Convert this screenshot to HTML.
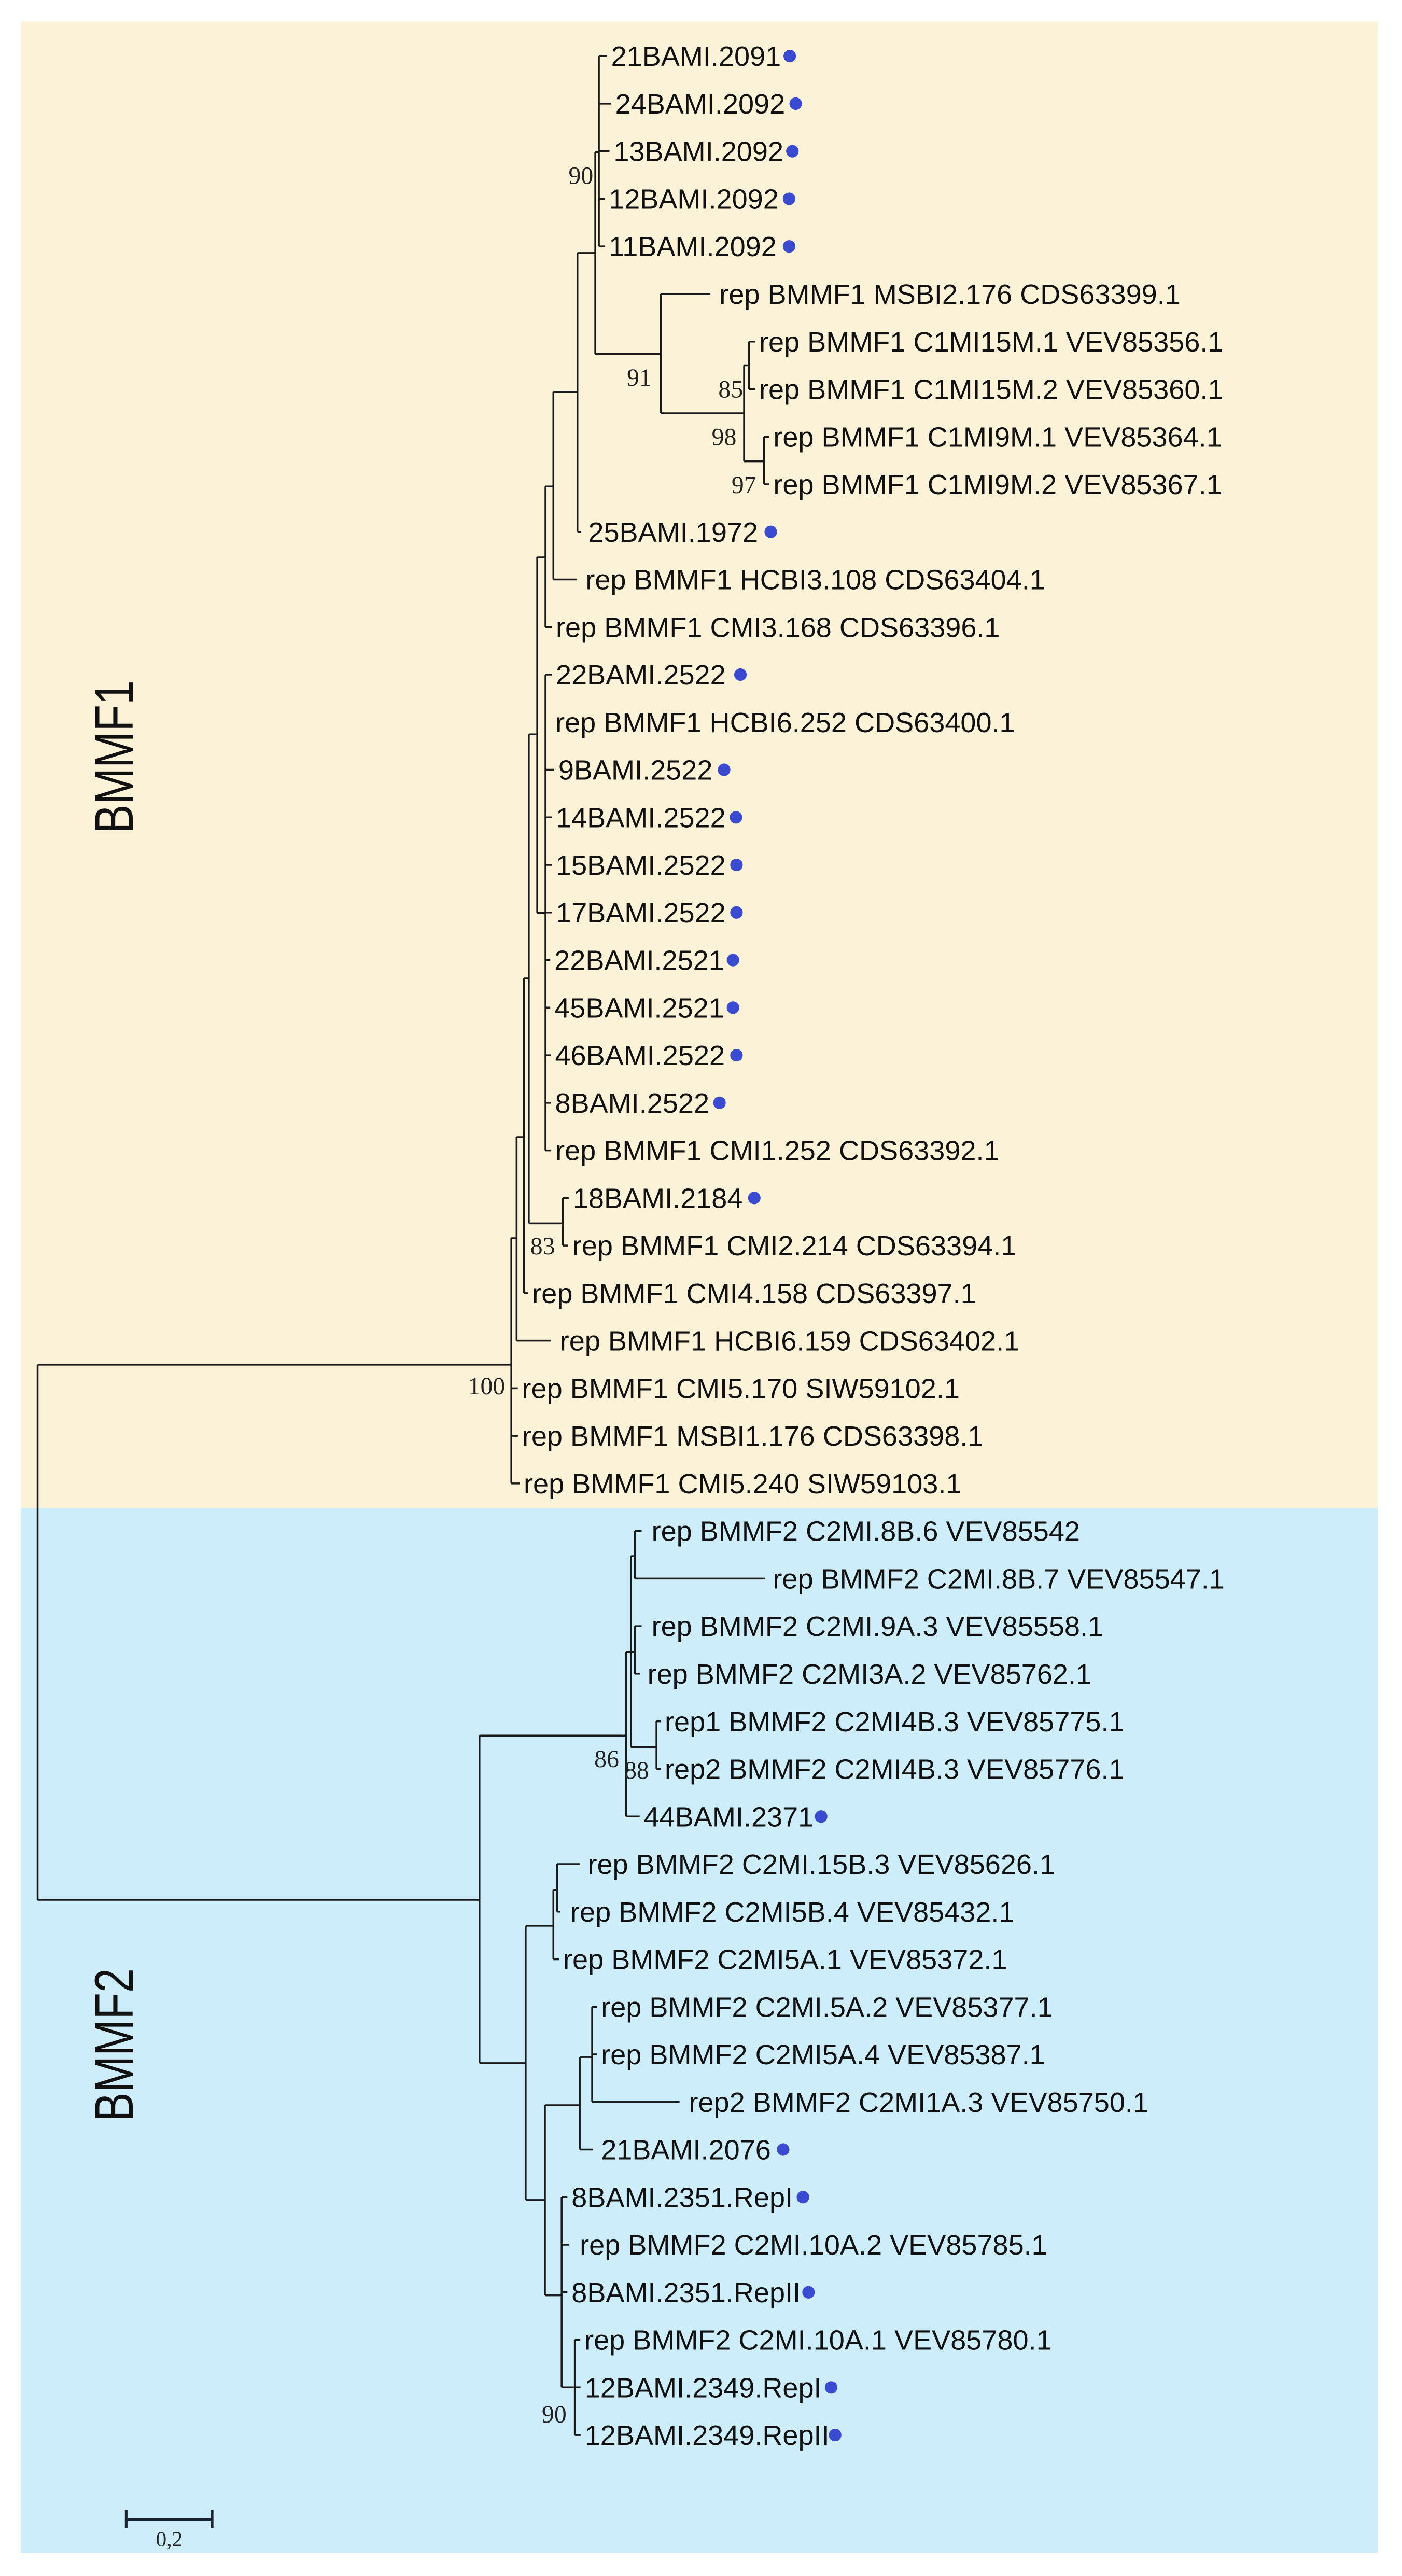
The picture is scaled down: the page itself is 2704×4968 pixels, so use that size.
<!DOCTYPE html>
<html><head><meta charset="utf-8"><style>
html,body{margin:0;padding:0;background:#fff;}
svg{display:block;}
.t{font-family:"Liberation Sans",Arial,sans-serif;font-size:17px;fill:#111;}
.b{font-family:"Liberation Serif","Times New Roman",serif;font-size:15px;fill:#222;text-anchor:middle;}
.c{font-family:"Liberation Sans",Arial,sans-serif;font-size:33px;fill:#111;text-anchor:middle;}
</style></head><body>
<svg width="2704" height="4968" viewBox="0 0 850 1562" preserveAspectRatio="none" xmlns="http://www.w3.org/2000/svg">
<rect x="0" y="0" width="850" height="1562" fill="#fff"/>
<rect x="12.5" y="13" width="822.7" height="901.4" fill="#fcf2d7"/>
<rect x="12.5" y="914.4" width="822.7" height="633.6" fill="#cdedfb"/>

<g stroke="#1a1a1a" stroke-width="1.1" fill="none">
<path d="
M22.8 827.5V1152 M22.8 827.5H310 M22.8 1152H290.7
M310 750.8V899.5 M310 750.8H313.2
M313.2 689.5V812.95 M313.2 689.5H317.7
M317.7 593.3V784.1 M317.7 593.3H320.6
M320.6 445.3V741.8 M320.6 445.3H325.7 M320.6 741.8H341.2
M341.2 726.4V755.25
M325.7 338V553.5 M325.7 338H330.7 M325.7 553.5H330.7
M330.7 409.05V697.55
M330.7 295V380.2 M330.7 295H335.5
M335.5 237.6V351.35 M335.5 237.6H350.1
M350.1 153.4V322.5 M350.1 153.4H360.9
M360.9 92.2V214.5 M360.9 92.2H363.1 M360.9 214.5H400.6
M363.1 34V149.4
M400.6 178.25V250.6 M400.6 250.6H451.1
M451.1 221.5V279.7 M451.1 221.5H454.1 M451.1 279.7H463.2
M454.1 207.1V235.95
M463.2 264.8V293.65
M290.7 1052.4V1251 M290.7 1052.4H379.5 M290.7 1251H318.7
M379.5 1001.7V1101.45 M379.5 1001.7H382.5
M382.5 943.6V1059.4 M382.5 943.6H384.9 M382.5 1001.7H385 M382.5 1059.4H398
M384.9 928.35V957.2
M385 986.05V1014.9
M398 1043.75V1072.6
M318.7 1167.7V1334 M318.7 1167.7H335.5 M318.7 1334H330.4
M335.5 1146V1188 M335.5 1146H337.8
M337.8 1130.3V1159.15
M330.4 1276.5V1391.8 M330.4 1276.5H351.5 M330.4 1391.8H340.5
M351.5 1247.3V1303.4 M351.5 1247.3H359
M359 1216.85V1274.55
M340.5 1332.25V1447.65 M340.5 1447.65H348.5
M348.5 1418.8V1476.5
M363.1 34H368 M363.1 62.85H370.5 M363.1 91.7H369.5 M363.1 120.55H366.6 M363.1 149.4H366.6
M400.6 178.25H430.7
M454.1 207.1H457.7 M454.1 235.95H457.7
M463.2 264.8H466.3 M463.2 293.65H466.3
M350.1 322.5H352.4
M335.5 351.35H349.6
M330.7 380.2H334.5
M330.7 409.05H334.5 M330.7 466.75H336 M330.7 495.6H334.5 M330.7 524.45H334.5 M330.7 553.3H334.5 M330.7 582.15H333.6 M330.7 611H333.6 M330.7 639.85H334 M330.7 668.7H334 M330.7 697.55H334.2
M341.2 726.4H344.8 M341.2 755.25H344.5
M317.7 784.1H320.1
M313.2 812.95H334
M310 841.8H313.9 M310 870.65H314 M310 899.5H315
M384.9 928.35H389 M384.9 957.2H463.7
M385 986.05H389 M385 1014.9H388
M398 1043.75H400.5 M398 1072.6H400.5
M379.5 1101.45H387.8
M337.8 1130.3H351.4 M337.8 1159.15H339.5
M335.5 1188H338.9
M359 1216.85H361.9 M359 1245.7H361.9 M359 1274.55H412
M351.5 1303.4H359.4
M340.5 1332.25H344 M340.5 1361.1H345 M340.5 1389.95H344
M348.5 1418.8H351.8 M348.5 1447.65H352 M348.5 1476.5H352
"/>
</g>

<g class="t">
<text x="370.5" y="40">21BAMI.2091</text>
<text x="373" y="68.85">24BAMI.2092</text>
<text x="372" y="97.7">13BAMI.2092</text>
<text x="369.1" y="126.55">12BAMI.2092</text>
<text x="369.1" y="155.4">11BAMI.2092</text>
<text x="436.1" y="184.25">rep BMMF1 MSBI2.176 CDS63399.1</text>
<text x="460.2" y="213.1">rep BMMF1 C1MI15M.1 VEV85356.1</text>
<text x="460.2" y="241.95">rep BMMF1 C1MI15M.2 VEV85360.1</text>
<text x="468.8" y="270.8">rep BMMF1 C1MI9M.1 VEV85364.1</text>
<text x="468.8" y="299.65">rep BMMF1 C1MI9M.2 VEV85367.1</text>
<text x="356.6" y="328.5">25BAMI.1972</text>
<text x="355" y="357.35">rep BMMF1 HCBI3.108 CDS63404.1</text>
<text x="337" y="386.2">rep BMMF1 CMI3.168 CDS63396.1</text>
<text x="337" y="415.05">22BAMI.2522</text>
<text x="336.7" y="443.9">rep BMMF1 HCBI6.252 CDS63400.1</text>
<text x="338.5" y="472.75">9BAMI.2522</text>
<text x="337" y="501.6">14BAMI.2522</text>
<text x="337" y="530.45">15BAMI.2522</text>
<text x="337" y="559.3">17BAMI.2522</text>
<text x="336.1" y="588.15">22BAMI.2521</text>
<text x="336.1" y="617">45BAMI.2521</text>
<text x="336.5" y="645.85">46BAMI.2522</text>
<text x="336.5" y="674.7">8BAMI.2522</text>
<text x="336.7" y="703.55">rep BMMF1 CMI1.252 CDS63392.1</text>
<text x="347.3" y="732.4">18BAMI.2184</text>
<text x="347" y="761.25">rep BMMF1 CMI2.214 CDS63394.1</text>
<text x="322.6" y="790.1">rep BMMF1 CMI4.158 CDS63397.1</text>
<text x="339.4" y="818.95">rep BMMF1 HCBI6.159 CDS63402.1</text>
<text x="316.4" y="847.8">rep BMMF1 CMI5.170 SIW59102.1</text>
<text x="316.5" y="876.65">rep BMMF1 MSBI1.176 CDS63398.1</text>
<text x="317.5" y="905.5">rep BMMF1 CMI5.240 SIW59103.1</text>
<text x="395" y="934.35">rep BMMF2 C2MI.8B.6 VEV85542</text>
<text x="468.5" y="963.2">rep BMMF2 C2MI.8B.7 VEV85547.1</text>
<text x="395" y="992.05">rep BMMF2 C2MI.9A.3 VEV85558.1</text>
<text x="392.5" y="1020.9">rep BMMF2 C2MI3A.2 VEV85762.1</text>
<text x="403" y="1049.75">rep1 BMMF2 C2MI4B.3 VEV85775.1</text>
<text x="403" y="1078.6">rep2 BMMF2 C2MI4B.3 VEV85776.1</text>
<text x="390.3" y="1107.45">44BAMI.2371</text>
<text x="356.3" y="1136.3">rep BMMF2 C2MI.15B.3 VEV85626.1</text>
<text x="345.8" y="1165.15">rep BMMF2 C2MI5B.4 VEV85432.1</text>
<text x="341.4" y="1194">rep BMMF2 C2MI5A.1 VEV85372.1</text>
<text x="364.4" y="1222.85">rep BMMF2 C2MI.5A.2 VEV85377.1</text>
<text x="364.4" y="1251.7">rep BMMF2 C2MI5A.4 VEV85387.1</text>
<text x="417.6" y="1280.55">rep2 BMMF2 C2MI1A.3 VEV85750.1</text>
<text x="364.4" y="1309.4">21BAMI.2076</text>
<text x="346.5" y="1338.25">8BAMI.2351.RepI</text>
<text x="351.5" y="1367.1">rep BMMF2 C2MI.10A.2 VEV85785.1</text>
<text x="346.5" y="1395.95">8BAMI.2351.RepII</text>
<text x="354.3" y="1424.8">rep BMMF2 C2MI.10A.1 VEV85780.1</text>
<text x="354.5" y="1453.65">12BAMI.2349.RepI</text>
<text x="354.5" y="1482.5">12BAMI.2349.RepII</text>
</g>

<g fill="#3b4bd1">
<circle cx="478.8" cy="34" r="3.8"/>
<circle cx="482.4" cy="62.85" r="3.8"/>
<circle cx="480.4" cy="91.7" r="3.8"/>
<circle cx="478.4" cy="120.55" r="3.8"/>
<circle cx="478.4" cy="149.4" r="3.8"/>
<circle cx="467.3" cy="322.5" r="3.8"/>
<circle cx="448.9" cy="409.05" r="3.8"/>
<circle cx="439" cy="466.75" r="3.8"/>
<circle cx="446.2" cy="495.6" r="3.8"/>
<circle cx="446.5" cy="524.45" r="3.8"/>
<circle cx="446.5" cy="553.3" r="3.8"/>
<circle cx="444.4" cy="582.15" r="3.8"/>
<circle cx="444.4" cy="611" r="3.8"/>
<circle cx="446.5" cy="639.85" r="3.8"/>
<circle cx="436.2" cy="668.7" r="3.8"/>
<circle cx="457.3" cy="726.4" r="3.8"/>
<circle cx="497.8" cy="1101.45" r="3.8"/>
<circle cx="474.8" cy="1303.4" r="3.8"/>
<circle cx="486.8" cy="1332.25" r="3.8"/>
<circle cx="490.2" cy="1389.95" r="3.8"/>
<circle cx="503.9" cy="1447.65" r="3.8"/>
<circle cx="506.3" cy="1476.5" r="3.8"/>
</g>

<g class="b">
<text x="352.2" y="111.5">90</text>
<text x="387.6" y="234">91</text>
<text x="443" y="241">85</text>
<text x="439" y="270">98</text>
<text x="451" y="299">97</text>
<text x="329" y="760.5">83</text>
<text x="295" y="845.5">100</text>
<text x="367.8" y="1071.5">86</text>
<text x="386" y="1078.5">88</text>
<text x="336" y="1469">90</text>
</g>

<text class="c" transform="translate(80.5,459) rotate(-90)" textLength="93" lengthAdjust="spacingAndGlyphs">BMMF1</text>
<text class="c" transform="translate(80.5,1240) rotate(-90)" textLength="93" lengthAdjust="spacingAndGlyphs">BMMF2</text>

<g stroke="#1a2230" stroke-width="1.6" fill="none">
<path d="M76.5 1527.6H128.6 M76.5 1522V1533 M128.6 1522V1533"/>
</g>
<text x="102.6" y="1544" style="font-family:'Liberation Serif',serif;font-size:13px;fill:#222;text-anchor:middle;">0,2</text>
</svg>
</body></html>
